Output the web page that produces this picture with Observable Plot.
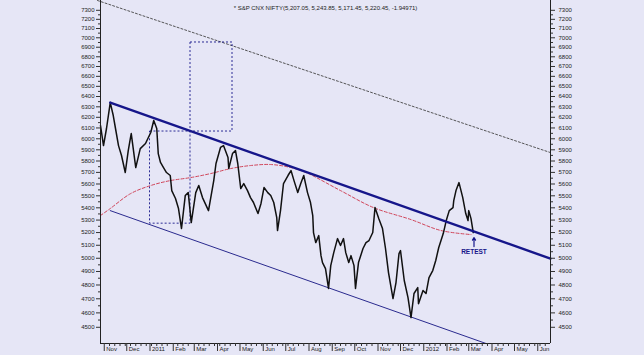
<!DOCTYPE html>
<html><head><meta charset="utf-8">
<script src="https://cdn.jsdelivr.net/npm/d3@7"></script>
<script src="https://cdn.jsdelivr.net/npm/@observablehq/plot@0.6"></script>
<style>
html,body{margin:0;padding:0;background:#e6e6f6;}
#chart{width:644px;height:355px;overflow:hidden;}
</style></head><body><div id="chart"></div>
<script>
// ---- data ----
const titleText = "* S&P CNX NIFTY(5,207.05, 5,243.85, 5,171.45, 5,220.45, -1.94971)";

const priceDates = ["2010-10-27","2010-10-31","2010-11-04","2010-11-09","2010-11-13","2010-11-16","2010-11-20","2010-11-24","2010-11-29","2010-12-03","2010-12-06","2010-12-07","2010-12-13","2010-12-19","2010-12-26","2011-01-02","2011-01-06","2011-01-10","2011-01-12","2011-01-15","2011-01-19","2011-01-23","2011-01-28","2011-01-30","2011-02-04","2011-02-08","2011-02-12","2011-02-17","2011-02-21","2011-02-25","2011-03-03","2011-03-07","2011-03-12","2011-03-20","2011-03-27","2011-03-30","2011-04-05","2011-04-09","2011-04-15","2011-04-16","2011-04-21","2011-04-25","2011-04-28","2011-05-02","2011-05-06","2011-05-11","2011-05-15","2011-05-19","2011-05-25","2011-05-29","2011-06-02","2011-06-07","2011-06-11","2011-06-15","2011-06-19","2011-06-20","2011-06-24","2011-06-28","2011-07-04","2011-07-08","2011-07-12","2011-07-17","2011-07-21","2011-07-25","2011-07-30","2011-08-03","2011-08-06","2011-08-07","2011-08-10","2011-08-14","2011-08-17","2011-08-19","2011-08-23","2011-08-27","2011-08-30","2011-09-03","2011-09-08","2011-09-12","2011-09-16","2011-09-19","2011-09-23","2011-09-26","2011-09-30","2011-10-02","2011-10-06","2011-10-12","2011-10-16","2011-10-20","2011-10-25","2011-10-28","2011-11-02","2011-11-07","2011-11-11","2011-11-15","2011-11-21","2011-11-25","2011-11-29","2011-12-01","2011-12-06","2011-12-11","2011-12-15","2011-12-19","2011-12-24","2011-12-25","2011-12-31","2012-01-04","2012-01-08","2012-01-13","2012-01-17","2012-01-21","2012-01-27","2012-01-31","2012-02-04","2012-02-09","2012-02-10","2012-02-13","2012-02-17","2012-02-22","2012-02-26","2012-02-29","2012-03-01","2012-03-04","2012-03-07"];
const priceValues = [6123,5938,6095,6341,6217,6095,5938,5849,5699,5893,6011,6048,5742,5911,5957,6058,6170,6095,5866,5787,5742,5699,5673,5544,5477,5394,5232,5502,5527,5280,5527,5587,5485,5377,5629,5778,5921,5938,5831,5734,5866,5893,5778,5561,5604,5544,5485,5444,5353,5436,5570,5527,5502,5444,5320,5216,5377,5604,5673,5716,5629,5527,5604,5673,5527,5444,5337,5200,5121,5176,5020,4967,4922,4775,4944,5043,5152,5098,5152,5043,4967,5020,4944,4775,4967,5075,5121,5137,5200,5402,5312,5232,5075,4892,4702,4818,5036,5059,4833,4709,4567,4738,4781,4665,4760,4738,4854,4907,4983,5083,5192,5296,5377,5402,5460,5544,5612,5485,5353,5296,5377,5312,5200];

// curved (red dotted) support/resistance arc
const arcDates = ["2010-10-27","2010-11-09","2010-12-06","2011-01-02","2011-01-28","2011-02-24","2011-03-23","2011-04-19","2011-05-15","2011-06-11","2011-07-08","2011-07-28","2011-09-12","2011-10-26","2011-12-15","2012-01-24","2012-03-04"];
const arcValues = [5337,5394,5518,5587,5629,5655,5690,5734,5760,5769,5742,5699,5544,5402,5304,5216,5184];

// straight trend lines [start, end]
const upperTrendDates = ["2010-11-09","2012-06-18"];
const upperTrendValues = [6341,4997];
const lowerTrendDates = ["2010-11-09","2012-03-24"];
const lowerTrendValues = [5377,4390];
const topTrendDates = ["2010-10-23","2012-06-18"];
const topTrendValues = [7410,5875];

// dotted measurement boxes
const boxStart = ["2011-02-24","2011-01-01"];
const boxEnd   = ["2011-04-21","2011-02-24"];
const boxLow   = [6067,5271];
const boxHigh  = [6950,6067];

// RETEST annotation
const retestDate = "2012-03-08";
const retestArrowFrom = 5090, retestArrowTo = 5161, retestTextValue = 5052;
const retestLabel = "RETEST";

// axes
const yTicks = [4500,4600,4700,4800,4900,5000,5100,5200,5300,5400,5500,5600,5700,5800,5900,6000,6100,6200,6300,6400,6500,6600,6700,6800,6900,7000,7100,7200,7300];
const monthStartDates = ["2010-11-01","2010-12-01","2011-01-01","2011-02-01","2011-03-01","2011-04-01","2011-05-01","2011-06-01","2011-07-01","2011-08-01","2011-09-01","2011-10-01","2011-11-01","2011-12-01","2012-01-01","2012-02-01","2012-03-01","2012-04-01","2012-05-01","2012-06-01"];
const monthLabels = ["Nov","Dec","2011","Feb","Mar","Apr","May","Jun","Jul","Aug","Sep","Oct","Nov","Dec","2012","Feb","Mar","Apr","May","Jun"];
const xStart = "2010-10-27", xEnd = "2012-06-18";
const yMin = 4390, yMax = 7410;

// ---- build ----
const parse = d3.utcParse("%Y-%m-%d");
const prices = priceDates.map((d, i) => ({date: parse(d), value: priceValues[i]}));
const arc = arcDates.map((d, i) => ({date: parse(d), value: arcValues[i]}));
const toLine = (ds, vs) => ds.map((d, i) => ({date: parse(d), value: vs[i]}));
const upper = toLine(upperTrendDates, upperTrendValues);
const lower = toLine(lowerTrendDates, lowerTrendValues);
const topL = toLine(topTrendDates, topTrendValues);
const boxes = boxStart.map((d, i) => ({x1: parse(d), x2: parse(boxEnd[i]), y1: boxLow[i], y2: boxHigh[i]}));
const months = monthStartDates.map(parse);
const x0 = parse(xStart), x1 = parse(xEnd);
const yMinor = yTicks.slice(0, -1).map(v => v + 50);
const weeks = d3.utcMonday.range(x0, x1).filter(w => !months.some(m => Math.abs(w - m) < 2 * 864e5));
const retest = {date: parse(retestDate)};

const navy = "#16168a";
const FONT = "'Liberation Sans', Arial, sans-serif";

const chart = Plot.plot({
  width: 644, height: 355,
  marginLeft: 100, marginRight: 94, marginTop: 0, marginBottom: 12,
  style: {background: "#e6e6f6", fontFamily: FONT, fontSize: "6px", color: "#222", overflow: "visible"},
  x: {type: "utc", domain: [x0, x1], axis: null},
  y: {type: "log", domain: [yMin, yMax], axis: null},
  marks: [
    Plot.line(topL, {x: "date", y: "value", stroke: "#444", strokeWidth: 0.9, strokeDasharray: "2,2"}),
    Plot.rect(boxes, {x1: "x1", x2: "x2", y1: "y1", y2: "y2", fill: "none", stroke: navy, strokeWidth: 0.9, strokeDasharray: "2,2"}),
    Plot.line(arc, {x: "date", y: "value", curve: "catmull-rom", stroke: "#d0455a", strokeWidth: 1, strokeDasharray: "3,2"}),
    Plot.line(lower, {x: "date", y: "value", stroke: "#2a2a8e", strokeWidth: 1}),
    Plot.line(prices, {x: "date", y: "value", stroke: "#111", strokeWidth: 1.5}),
    Plot.line(upper, {x: "date", y: "value", stroke: navy, strokeWidth: 2.4}),
    Plot.arrow([retest], {x1: "date", x2: "date", y1: () => retestArrowFrom, y2: () => retestArrowTo, stroke: navy, strokeWidth: 1.2, headLength: 4}),
    Plot.text([retest], {x: "date", y: () => retestTextValue, text: () => retestLabel, fill: navy, fontWeight: "bold", fontSize: 6.5}),
    Plot.text([titleText], {frameAnchor: "top", dy: 5, text: d => d, fontSize: 6, fill: "#222"}),
    // axes
    Plot.ruleX([x0, x1], {stroke: "#222", strokeWidth: 1}),
    Plot.ruleY([yMin], {stroke: "#222", strokeWidth: 1}),
    Plot.axisY(yTicks, {anchor: "left", tickSize: 4, tickFormat: () => "", stroke: "#333"}),
    Plot.axisY(yMinor, {anchor: "left", tickSize: 2, tickFormat: () => "", stroke: "#333"}),
    Plot.axisY(yTicks, {anchor: "right", tickSize: 4, tickFormat: () => "", stroke: "#333"}),
    Plot.axisY(yMinor, {anchor: "right", tickSize: 2, tickFormat: () => "", stroke: "#333"}),
    Plot.text(yTicks, {y: d => d, text: d => String(d), frameAnchor: "left", dx: -6, textAnchor: "end", fontSize: 6, fill: "#222"}),
    Plot.text(yTicks, {y: d => d, text: d => String(d), frameAnchor: "right", dx: 8, textAnchor: "start", fontSize: 6, fill: "#222"}),
    Plot.axisX(months, {anchor: "bottom", tickSize: 8, tickFormat: () => "", stroke: "#333"}),
    Plot.axisX(weeks, {anchor: "bottom", tickSize: 3, tickFormat: () => "", stroke: "#333"}),
    Plot.text(months, {x: d => d, text: (d, i) => monthLabels[i], frameAnchor: "bottom", dy: 7, dx: 2, textAnchor: "start", fontSize: 6, fill: "#222"})
  ]
});
document.getElementById("chart").appendChild(chart);
</script></body></html>
